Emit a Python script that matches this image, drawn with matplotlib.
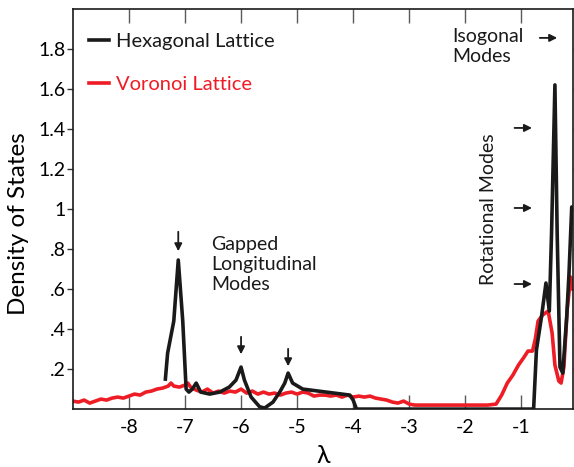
import numpy as np
import matplotlib
matplotlib.use("Agg")
import matplotlib.pyplot as plt

plt.rcParams["font.family"] = ["Lato", "DejaVu Sans"]

# Hexagonal lattice density of states
hex_x = [-7.35, -7.31, -7.2, -7.12, -7.04, -6.98, -6.93, -6.87, -6.8, -6.72,
         -6.56, -6.38, -6.21, -6.09, -6.0, -5.94, -5.82, -5.67, -5.58, -5.43,
         -5.31, -5.22, -5.16, -5.08, -4.9, -4.48, -4.06, -4.0, -3.94, -0.78,
         -0.73, -0.64, -0.56, -0.5, -0.46, -0.4, -0.36, -0.31, -0.26, -0.19,
         -0.15, -0.1, -0.08]
hex_y = [0.15, 0.28, 0.44, 0.745, 0.44, 0.10, 0.085, 0.10, 0.13, 0.085,
         0.075, 0.085, 0.11, 0.145, 0.21, 0.145, 0.06, 0.012, 0.005, 0.035,
         0.085, 0.13, 0.18, 0.13, 0.10, 0.085, 0.07, 0.045, 0.0, 0.0,
         0.295, 0.46, 0.63, 0.49, 0.88, 1.62, 0.88, 0.21, 0.18, 0.46,
         0.67, 1.01, 0.95]

# Voronoi lattice density of states
vor_x = [-9.0, -8.9, -8.8, -8.7, -8.6, -8.5, -8.4, -8.3, -8.2, -8.1, -8.0,
         -7.9, -7.8, -7.7, -7.6, -7.5, -7.4, -7.3, -7.25, -7.2, -7.1, -7.0,
         -6.95, -6.9, -6.8, -6.7, -6.6, -6.5, -6.4, -6.3, -6.2, -6.1, -6.0,
         -5.9, -5.8, -5.7, -5.6, -5.5, -5.4, -5.3, -5.2, -5.1, -5.0, -4.9,
         -4.8, -4.7, -4.6, -4.5, -4.4, -4.3, -4.2, -4.1, -4.0, -3.9, -3.8,
         -3.7, -3.6, -3.5, -3.4, -3.3, -3.2, -3.1, -3.0, -2.9, -2.5, -2.0,
         -1.6, -1.45, -1.35, -1.25, -1.15, -1.05, -0.95, -0.88, -0.8, -0.75,
         -0.7, -0.62, -0.52, -0.45, -0.4, -0.33, -0.29, -0.24, -0.18, -0.12,
         -0.08]
vor_y = [0.04, 0.035, 0.045, 0.03, 0.04, 0.05, 0.045, 0.055, 0.06, 0.055, 0.065,
         0.075, 0.07, 0.085, 0.09, 0.10, 0.105, 0.115, 0.13, 0.115, 0.11, 0.12,
         0.13, 0.11, 0.095, 0.085, 0.10, 0.08, 0.09, 0.08, 0.09, 0.085, 0.10,
         0.08, 0.09, 0.075, 0.085, 0.075, 0.08, 0.07, 0.08, 0.085, 0.075, 0.085,
         0.08, 0.065, 0.07, 0.07, 0.065, 0.07, 0.06, 0.07, 0.06, 0.065, 0.06,
         0.065, 0.055, 0.05, 0.045, 0.035, 0.03, 0.04, 0.025, 0.02, 0.02, 0.02,
         0.02, 0.025, 0.07, 0.13, 0.17, 0.22, 0.26, 0.29, 0.29, 0.35,
         0.44, 0.47, 0.49, 0.38, 0.22, 0.14, 0.13, 0.21, 0.50, 0.66,
         0.60]

x_ticks = [-8, -7, -6, -5, -4, -3, -2, -1]
y_ticks = [0.2, 0.4, 0.6, 0.8, 1.0, 1.2, 1.4, 1.6, 1.8]
y_tick_labels = [".2", ".4", ".6", ".8", "1", "1.2", "1.4", "1.6", "1.8"]

RED = "#ee1c25"
BLACK = "#1a1a1a"

fig = plt.figure(figsize=(5.74, 4.67), dpi=100)
ax = fig.add_axes([0.127, 0.124, 0.871, 0.857])

ax.plot(vor_x, vor_y, color=RED, lw=2.6, label="Voronoi Lattice", zorder=2)
ax.plot(hex_x, hex_y, color=BLACK, lw=2.6, label="Hexagonal Lattice", zorder=3)

ax.set_xlim(-9.0, -0.08)
ax.set_ylim(0, 2.0)
ax.set_xticks(x_ticks)
ax.set_xticklabels([str(t) for t in x_ticks])
ax.set_yticks(y_ticks)
ax.set_yticklabels(y_tick_labels)
ax.tick_params(axis="x", direction="in", length=10, width=1, color="0.35",
               top=True, labelsize=14, pad=7)
ax.tick_params(axis="y", direction="out", length=4, width=1, color="0.2",
               labelsize=14, pad=1)
ax.tick_params(axis="y", which="both", right=True)
for s in ax.spines.values():
    s.set_linewidth(1.2)
    s.set_color(BLACK)

ax.set_xlabel("λ", fontsize=18, labelpad=6)
ax.set_ylabel("Density of States", fontsize=17.5)
ax.yaxis.set_label_coords(-0.088, 0.4625)

# legend
handles, labels = ax.get_legend_handles_labels()
leg = ax.legend(handles[::-1], labels[::-1], loc="upper left", frameon=False,
                handlelength=1.0, handletextpad=0.35, labelspacing=1.3,
                fontsize=14.5, bbox_to_anchor=(-0.005, 0.985), labelcolor="linecolor")

# annotations
arrow = dict(arrowstyle="-|>", color=BLACK, lw=1.3, mutation_scale=11)
for xa, y0, y1 in [(-7.12, 0.90, 0.775), (-6.0, 0.375, 0.26), (-5.16, 0.315, 0.20)]:
    ax.annotate("", xy=(xa, y1), xytext=(xa, y0), arrowprops=arrow)
ax.text(-6.53, 0.865, "Gapped\nLongitudinal\nModes", fontsize=14, va="top",
        ha="left", linespacing=1.2, color=BLACK)

ax.text(-2.24, 1.905, "Isogonal\nModes", fontsize=14, va="top", ha="left",
        linespacing=1.2, color=BLACK)
ax.annotate("", xy=(-0.31, 1.855), xytext=(-0.72, 1.855), arrowprops=arrow)

ax.text(-1.58, 1.0, "Rotational Modes", fontsize=14, rotation=90,
        va="center", ha="center", color=BLACK)
for ya in [1.405, 1.005, 0.625]:
    ax.annotate("", xy=(-0.76, ya), xytext=(-1.17, ya), arrowprops=arrow)

fig.savefig("out.png", dpi=100)
